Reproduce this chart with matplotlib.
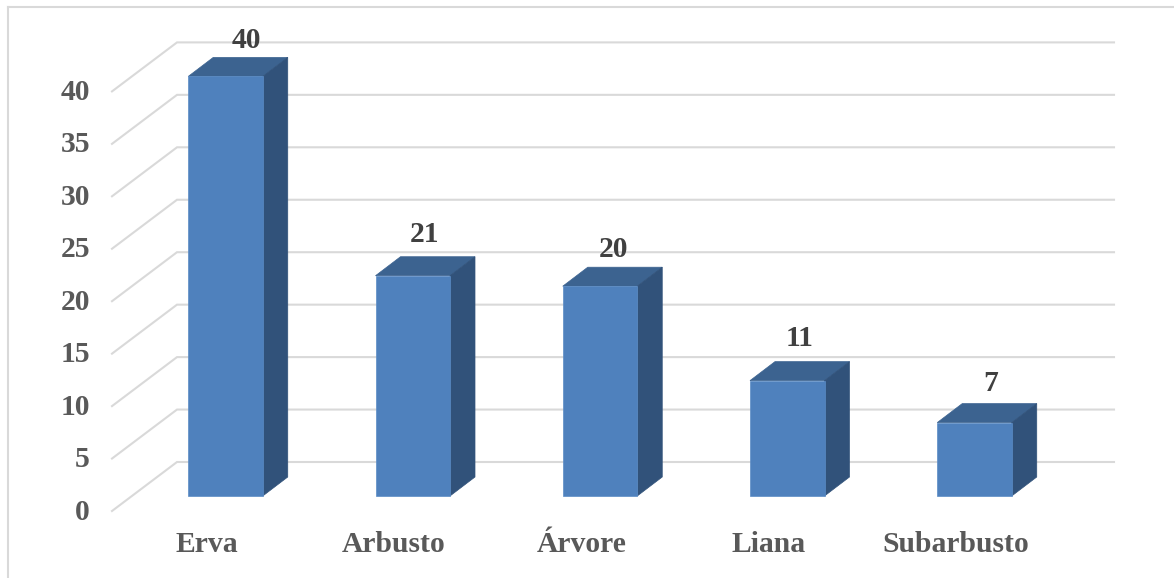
import matplotlib
matplotlib.use('Agg')
import matplotlib.pyplot as plt
from matplotlib.patches import Polygon

categories = ['Erva', 'Arbusto', 'Árvore', 'Liana', 'Subarbusto']
values = [40, 21, 20, 11, 7]
y_ticks = [0, 5, 10, 15, 20, 25, 30, 35, 40]

plt.rcParams['font.family'] = ['Liberation Serif', 'DejaVu Sans']
plt.rcParams['font.weight'] = 'bold'

W, H = 1174, 578
cat_px = 187.25    # pixels per category
val_px = 10.49     # pixels per unit on the y axis
x0_px, y0_px = 225.5, 496    # where category 0 / value 0 sit

fig = plt.figure(figsize=(W / 100, H / 100), dpi=100)
ax = fig.add_axes([0, 0, 1, 1])
ax.set_xlim(-x0_px / cat_px, (W - x0_px) / cat_px)
ax.set_ylim((y0_px - H) / val_px, y0_px / val_px)
ax.axis('off')

# fake 3d depth, in data units
bar_w = 74.5 / cat_px
bar_dx = 25 / cat_px
bar_dy = 19 / val_px
floor_x0 = (112 - x0_px) / cat_px
floor_x1 = (177 - x0_px) / cat_px
grid_x1 = (1114 - x0_px) / cat_px
floor_y0 = -15 / val_px
floor_y1 = 34 / val_px

# the data labels are not placed evenly, nudges in pixels from the bar top
label_dx = [21, 12, 13, 12, 16]
label_dy = [36, 41, 37, 42, 39]

grid_c = '#D9D9D9'
for v in y_ticks:
    ax.plot([floor_x0, floor_x1, grid_x1],
            [v + floor_y0, v + floor_y1, v + floor_y1],
            color=grid_c, lw=1.5, zorder=1, solid_joinstyle='miter')
    ax.text(floor_x0 - 22 / cat_px, v + floor_y0 - 0.1, str(v), ha='right', va='center',
            fontsize=21.3, color='#595959')

for i, (name, v) in enumerate(zip(categories, values)):
    l = i - bar_w / 2
    r = i + bar_w / 2
    ax.add_patch(Polygon([(l, 0), (r, 0), (r, v), (l, v)], fc='#4F81BD', ec='#5B8CC6', lw=0.5, zorder=4))
    ax.add_patch(Polygon([(l, v), (r, v), (r + bar_dx, v + bar_dy), (l + bar_dx, v + bar_dy)],
                         fc='#3C6390', ec='#3C6390', lw=0.5, zorder=3))
    ax.add_patch(Polygon([(r, 0), (r + bar_dx, bar_dy), (r + bar_dx, v + bar_dy), (r, v)],
                         fc='#31527A', ec='#31527A', lw=0.5, zorder=3))
    # data label above the bar
    ax.text(i + label_dx[i] / cat_px, v + label_dy[i] / val_px, str(v), ha='center', va='center',
            fontsize=21.3, color='#404040', zorder=5)
    ax.text(i - 0.1, -4.65, name, ha='center', va='center', fontsize=21.3, color='#595959')

# chart frame
ax.plot([7.5 / cat_px - x0_px / cat_px] * 2, [(y0_px - H) / val_px, (y0_px - 6.5) / val_px],
        color=grid_c, lw=1.5, clip_on=False)
ax.plot([7.5 / cat_px - x0_px / cat_px, (W - x0_px) / cat_px], [(y0_px - 6.5) / val_px] * 2,
        color=grid_c, lw=1.5, clip_on=False)

fig.savefig('out.png', dpi=100, facecolor='white')
